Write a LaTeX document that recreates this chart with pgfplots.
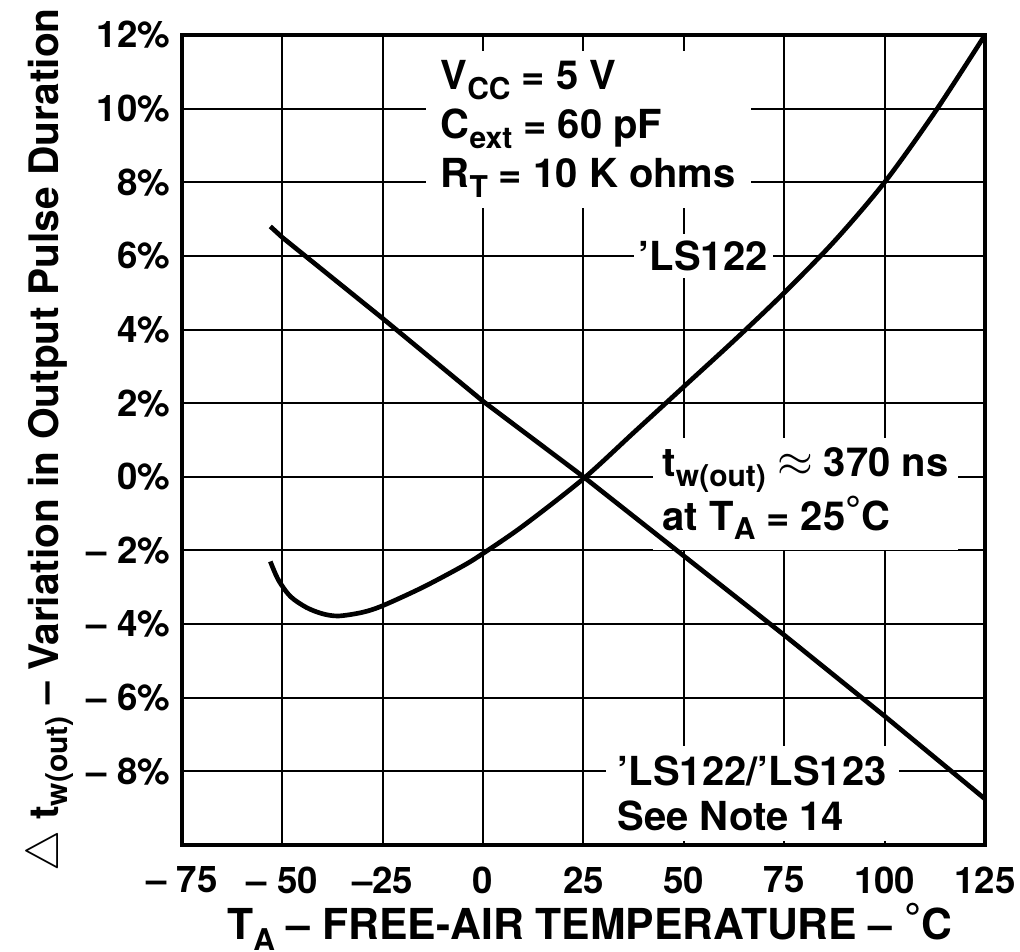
\documentclass[border=0pt]{standalone}
\usepackage{fontspec}
\setmainfont{TeX Gyre Heros}
\usepackage{pgfplots}
\pgfplotsset{compat=1.18}
\newcommand\sub[1]{\raisebox{-0.45ex}{\fontsize{9}{10}\selectfont\bfseries #1}}
\begin{document}
\begin{tikzpicture}
\begin{axis}[
  at={(0,0)}, anchor=south west,
  width=240.9pt, height=243pt, scale only axis,
  xmin=-75, xmax=125, ymin=-10, ymax=12,
  xtick={-75,-50,...,125}, ytick={-8,-6,...,12},
  xticklabels={\textendash\ 75,\textendash\ 50,\textendash25,0,25,50,75,100,125},
  yticklabels={\textendash\ 8\%,\textendash\ 6\%,\textendash\ 4\%,\textendash\ 2\%,0\%,2\%,4\%,6\%,8\%,10\%,12\%},
  grid=major, major grid style={black, line width=0.6pt},
  major tick length=0pt,
  axis line style={line width=1.2pt},
  tick label style={font=\fontsize{11}{13}\selectfont\bfseries},
  xticklabel style={yshift=-3pt},
  xlabel={T\sub{A} \textendash\ FREE-AIR TEMPERATURE \textendash\ \raisebox{0.15em}{°}C},
  xlabel style={at={(axis description cs:0.508,0)}, anchor=base, yshift=-28.5pt, font=\fontsize{12.8}{14}\selectfont\bfseries},
  ylabel={\scalebox{1.15}{$\triangle$} t\sub{w(out)} \textendash\ Variation in Output Pulse Duration},
  ylabel style={at={(axis description cs:-0.1644,0.5)}, anchor=center, font=\fontsize{12.2}{14}\selectfont\bfseries},
]
\node[anchor=north west, fill=white, inner xsep=4.5pt, inner ysep=3pt, align=left,
      font=\fontsize{12}{14.7}\selectfont\bfseries] at (axis cs:-14.48,11.59)
  {V\sub{CC} = 5 V\\C\sub{ext} = 60 pF\\R\sub{T} = 10 K ohms};
\node[anchor=west, fill=white, inner xsep=1.5pt, inner ysep=2pt,
      font=\fontsize{12}{14}\selectfont\bfseries] at (axis cs:37.33,6)
  {\textquoteright LS122\hspace{3pt}};
\node[anchor=north west, fill=white, inner xsep=3pt, inner ysep=3pt, align=left,
      font=\fontsize{12}{12}\selectfont\bfseries] at (axis cs:42.06,1.08)
  {t\sub{w(out)} \scalebox{1.15}{$\approx$} 370 ns\\at T\sub{A} = 25\raisebox{0.15em}{°}C};
\node[anchor=north west, fill=white, inner xsep=3.6pt, inner ysep=3pt, align=left,
      font=\fontsize{12}{13.5}\selectfont\bfseries] at (axis cs:30.36,-7.28)
  {\textquoteright LS122/\textquoteright LS123\\See Note 14};
\addplot[black, line width=1.4pt] coordinates {
  (-53,6.8) (-50,6.5) (-25,4.3) (0,2.05) (25,0) (50,-2.15) (75,-4.3) (100,-6.5) (125,-8.75)
};
\addplot[black, line width=1.4pt, smooth] coordinates {
  (-53,-2.3) (-51,-2.8) (-48,-3.25) (-44,-3.55) (-40,-3.72) (-36,-3.78) (-30,-3.68)
  (-25,-3.5) (-15,-3.0) (-5,-2.42) (0,-2.08) (10,-1.33) (25,-0.05) (37.5,1.2)
  (50,2.45) (62.5,3.7) (75,5.0) (87.5,6.4) (100,8.0) (112.5,9.9) (125,12)
};
\end{axis}
\pgfresetboundingbox
\path[use as bounding box] (-54.6pt,-32.1pt) rectangle (251.4pt,253.5pt);
\end{tikzpicture}
\end{document}
